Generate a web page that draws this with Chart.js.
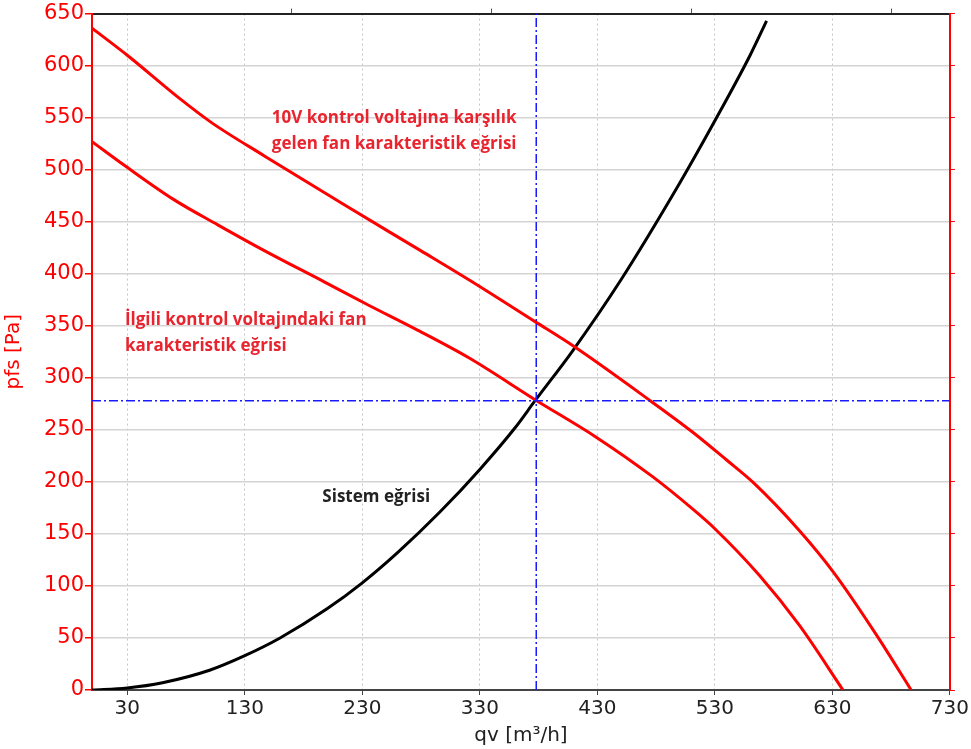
<!DOCTYPE html>
<html>
<head>
<meta charset="utf-8">
<title>pfs - qv</title>
<script src="https://cdn.jsdelivr.net/npm/chart.js@4.4.1/dist/chart.umd.min.js"></script>
<style>
  html, body { margin: 0; padding: 0; background: #fff; }
  #wrap { width: 971px; height: 749px; }
</style>
</head>
<body>
<div id="wrap"><canvas id="chart" width="971" height="749"></canvas></div>
<script>
/* ── Data ────────────────────────────────────────────────────────────── */

const xTicks   = [30, 130, 230, 330, 430, 530, 630, 730];
const topTicks = [170, 340, 510, 680];
const yTicks   = [0, 50, 100, 150, 200, 250, 300, 350, 400, 450, 500, 550, 600, 650];

// fan curve at 10 V
const fan10Q = [0, 30, 75, 102, 147, 215, 280, 321, 377, 409, 475, 512, 540, 563, 602, 631, 668, 697];
const fan10P = [636, 610, 568, 545, 513, 466, 422, 394, 354, 331, 278, 247, 221, 199, 153, 113, 52, 0];

// fan curve at the actual control voltage
const fanQ = [0, 29, 70, 107, 147, 198, 235, 275, 321, 377, 429, 477, 511, 530, 568, 602, 639];
const fanP = [527, 503, 471, 447, 422, 392, 370, 347, 319, 279, 243, 205, 174, 155, 110, 62, 0];

// system curve
const sysQ = [0, 30, 60, 100, 130, 160, 200, 230, 260, 296, 330, 360, 377, 409, 450, 500, 530, 560, 574];
const sysP = [0, 2, 7, 19, 33, 50, 78, 103, 132, 171, 212, 252, 278, 326, 394, 487, 547, 610, 643];

// operating point (guide lines)
const opQ = 378;
const opP = 278;

const notes = [
  { lines: ['10V kontrol voltajına karşılık', 'gelen fan karakteristik eğrisi'], q: 153, p: 550, color: '#e8252f' },
  { lines: ['İlgili kontrol voltajındaki fan', 'karakteristik eğrisi'], q: 28, p: 355, color: '#e8252f' },
  { lines: ['Sistem eğrisi'], q: 196, p: 185, color: '#222222' },
];

/* ── Helpers ─────────────────────────────────────────────────────────── */

const RED  = '#ff0000';
const AXIS = '#444444';
const pts  = (qs, ps) => qs.map((q, i) => ({ x: q, y: ps[i] }));
const fixTicks = list => scale => { scale.ticks = list.map(v => ({ value: v })); };

const notePlugin = {
  id: 'notes',
  afterDatasetsDraw(chart) {
    const { ctx, scales: { x, y } } = chart;
    ctx.save();
    ctx.font = 'bold 17px "Open Sans", Lato, sans-serif';
    ctx.textBaseline = 'middle';
    ctx.textAlign = 'left';
    notes.forEach(n => {
      ctx.fillStyle = n.color;
      const px = x.getPixelForValue(n.q);
      const py = y.getPixelForValue(n.p);
      n.lines.forEach((t, i) => ctx.fillText(t, px, py + i * 26));
    });
    ctx.restore();
  }
};

/* ── Chart ───────────────────────────────────────────────────────────── */

const curve = (data, color) => ({
  data, borderColor: color, borderWidth: 3, pointRadius: 0,
  showLine: true, cubicInterpolationMode: 'monotone', fill: false,
});
const guide = data => ({
  data, borderColor: '#1a1aff', borderWidth: 1.5, pointRadius: 0,
  showLine: true, tension: 0, borderDash: [9, 3, 2, 3], fill: false,
});

new Chart(document.getElementById('chart'), {
  type: 'scatter',
  data: {
    datasets: [
      guide([{ x: opQ, y: 0 }, { x: opQ, y: 650 }]),
      guide([{ x: 0, y: opP }, { x: 730, y: opP }]),
      curve(pts(fan10Q, fan10P), RED),
      curve(pts(fanQ, fanP), RED),
      curve(pts(sysQ, sysP), '#000000'),
    ]
  },
  options: {
    responsive: false,
    animation: false,
    layout: { padding: 0 },
    plugins: { legend: { display: false }, tooltip: { enabled: false } },
    scales: {
      x: {
        type: 'linear', position: 'bottom', min: 0, max: 730,
        afterBuildTicks: fixTicks(xTicks),
        afterFit: s => { s.height = 59; },
        grid: { color: '#c4c4c4', lineWidth: 1, tickColor: AXIS, tickLength: 5 },
        border: { color: AXIS, width: 2, dash: [2, 3] },
        ticks: { color: '#222', font: { family: 'DejaVu Sans', size: 20 }, padding: 2, maxRotation: 0, autoSkip: false },
        title: { display: true, text: 'qv [m³/h]', color: '#222', font: { family: 'DejaVu Sans', size: 20 }, padding: { top: 0, bottom: 1 } },
      },
      xTop: {
        type: 'linear', position: 'top', min: 0, max: 730,
        afterBuildTicks: fixTicks(topTicks),
        afterFit: s => { s.height = 13; },
        grid: { drawOnChartArea: false, tickColor: '#555', tickLength: 5 },
        border: { color: '#222', width: 2 },
        ticks: { display: false },
      },
      y: {
        type: 'linear', position: 'left', min: 0, max: 650,
        afterBuildTicks: fixTicks(yTicks),
        afterFit: s => { s.width = 92; },
        grid: { color: '#d4d4d4', lineWidth: 1.5, tickColor: RED, tickLength: 7 },
        border: { color: RED, width: 2 },
        ticks: { color: RED, font: { family: 'DejaVu Sans', size: 21 }, padding: 1 },
        title: { display: true, text: 'pfs [Pa]', color: RED, font: { family: 'DejaVu Sans', size: 20 }, padding: { top: 2, bottom: 0 } },
      },
      yRight: {
        type: 'linear', position: 'right', min: 0, max: 650,
        afterBuildTicks: fixTicks(yTicks),
        afterFit: s => { s.width = 21; },
        grid: { drawOnChartArea: false, tickColor: RED, tickLength: 5 },
        border: { color: RED, width: 2 },
        ticks: { display: false },
      },
    }
  },
  plugins: [notePlugin]
});
</script>
</body>
</html>
